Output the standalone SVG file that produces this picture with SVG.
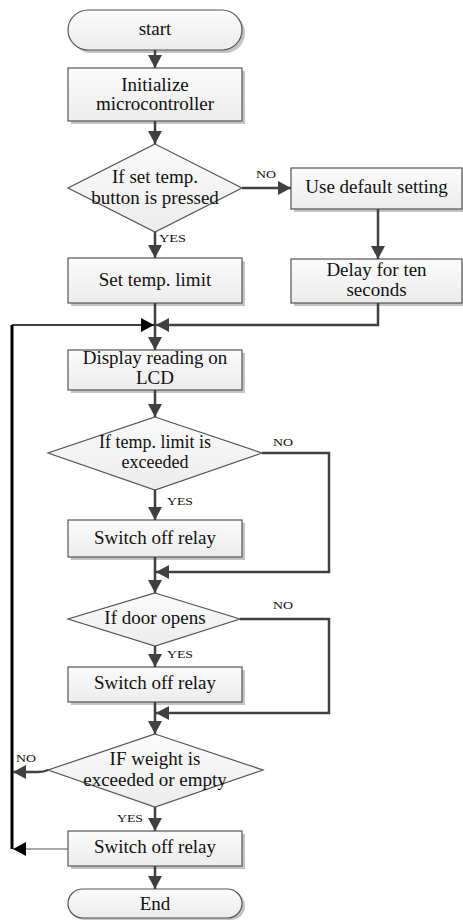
<svg xmlns="http://www.w3.org/2000/svg" width="463" height="920" viewBox="0 0 463 920">
<style>
.box{fill:url(#g);stroke:#555;stroke-width:1.2}
.sh{fill:#c4c4c4}
.t{font-family:"Liberation Serif","Times New Roman",serif;font-size:19px;fill:#111;text-anchor:middle}
.ts{font-size:18px}
.l{font-family:"Liberation Serif","Times New Roman",serif;font-size:11px;fill:#111}
.c{fill:none;stroke:#404040;stroke-width:2.5;marker-end:url(#a)}
</style>
<defs>
<linearGradient id="g" x1="0" y1="0" x2="0" y2="1">
<stop offset="0" stop-color="#fbfbfb"/>
<stop offset="1" stop-color="#ececec"/>
</linearGradient>
<marker id="a" markerUnits="userSpaceOnUse" markerWidth="14" markerHeight="14" viewBox="0 0 14 14" refX="13" refY="7" orient="auto">
<path d="M0,0 L13,7 L0,14 Z" fill="#404040"/>
</marker>
<marker id="ak" markerUnits="userSpaceOnUse" markerWidth="14" markerHeight="14" viewBox="0 0 14 14" refX="13" refY="7" orient="auto">
<path d="M0,0 L13,7 L0,14 Z" fill="#000"/>
</marker>
</defs>

<g id="start">
<rect class="sh" x="71" y="13" width="174" height="40" rx="20"/>
<rect class="box" x="68" y="10" width="174" height="40" rx="20"/>
<text class="t" x="155" y="35">start</text>
</g>
<g id="init">
<rect class="sh" x="71" y="71" width="174" height="53"/>
<rect class="box" x="68" y="68" width="174" height="53"/>
<text class="t" x="155" y="91">Initialize</text>
<text class="t" x="155" y="110">microcontroller</text>
</g>
<g id="d1">
<path class="box" d="M155,144 L242,188 L155,232 L68,188 Z"/>
<text class="t" x="155" y="183">If set temp.</text>
<text class="t" x="155" y="204">button is pressed</text>
</g>
<g id="default">
<rect class="sh" x="294" y="171" width="171" height="41"/>
<rect class="box" x="291" y="168" width="171" height="41"/>
<text class="t" x="376.5" y="193">Use default setting</text>
</g>
<g id="delay">
<rect class="sh" x="294" y="262" width="171" height="44"/>
<rect class="box" x="291" y="259" width="171" height="44"/>
<text class="t" x="376.5" y="276">Delay for ten</text>
<text class="t" x="376.5" y="296">seconds</text>
</g>
<g id="settemp">
<rect class="sh" x="71" y="261" width="174" height="45"/>
<rect class="box" x="68" y="258" width="174" height="45"/>
<text class="t" x="155" y="286">Set temp. limit</text>
</g>
<g id="display">
<rect class="sh" x="71" y="353" width="174" height="40"/>
<rect class="box" x="68" y="350" width="174" height="40"/>
<text class="t" x="155" y="364">Display reading on</text>
<text class="t" x="155" y="384">LCD</text>
</g>
<g id="d2">
<path class="box" d="M155,417 L262,453 L155,490 L48,453 Z"/>
<text class="t ts" x="155" y="448">If temp. limit is</text>
<text class="t ts" x="155" y="468">exceeded</text>
</g>
<g id="sw1">
<rect class="sh" x="71" y="523" width="174" height="37"/>
<rect class="box" x="68" y="520" width="174" height="37"/>
<text class="t" x="155" y="544">Switch off relay</text>
</g>
<g id="d3">
<path class="box" d="M155,593 L240,619 L155,646 L68,619 Z"/>
<text class="t" x="155" y="624">If door opens</text>
</g>
<g id="sw2">
<rect class="sh" x="71" y="670" width="174" height="35"/>
<rect class="box" x="68" y="667" width="174" height="35"/>
<text class="t" x="155" y="689">Switch off relay</text>
</g>
<g id="d4">
<path class="box" d="M155,734 L263,770 L155,807 L48,770 Z"/>
<text class="t" x="155" y="765">IF weight is</text>
<text class="t" x="155" y="786">exceeded or empty</text>
</g>
<g id="sw3">
<rect class="sh" x="71" y="834" width="174" height="35"/>
<rect class="box" x="68" y="831" width="174" height="35"/>
<text class="t" x="155" y="853">Switch off relay</text>
</g>
<g id="end">
<rect class="sh" x="71" y="892" width="174" height="28" rx="14"/>
<rect class="box" x="68" y="889" width="174" height="29" rx="14.5"/>
<text class="t" x="155" y="910">End</text>
</g>

<g id="connectors">
<path class="c" d="M155,50 V68"/>
<path class="c" d="M155,121 V144"/>
<path class="c" d="M155,232 V258"/>
<path class="c" d="M242,188 H291"/>
<path class="c" d="M378,209 V259"/>
<path class="c" d="M155,303 V350"/>
<path class="c" d="M378,303 V325 H156"/>
<path fill="none" stroke="#000" stroke-width="3" d="M12,849 V325"/>
<path fill="none" stroke="#000" stroke-width="1.5" marker-end="url(#ak)" d="M12,325 H154"/>
<path class="c" d="M155,390 V417"/>
<path class="c" d="M155,490 V520"/>
<path class="c" d="M262,453 H329 V572 H156"/>
<path class="c" d="M155,557 V593"/>
<path class="c" d="M155,646 V667"/>
<path class="c" d="M240,619 H329 V713 H156"/>
<path class="c" d="M155,702 V734"/>
<path class="c" d="M155,807 V831"/>
<path class="c" d="M48,770 Q44,772 38,772 H13"/>
<path fill="none" stroke="#555" stroke-width="1.2" marker-end="url(#ak)" d="M68,849 H13"/>
<path class="c" d="M155,866 V889"/>
<text class="l" x="256" y="178" textLength="20" lengthAdjust="spacingAndGlyphs">NO</text>
<text class="l" x="159" y="242" textLength="27" lengthAdjust="spacingAndGlyphs">YES</text>
<text class="l" x="273" y="446" textLength="20" lengthAdjust="spacingAndGlyphs">NO</text>
<text class="l" x="167" y="505" textLength="26" lengthAdjust="spacingAndGlyphs">YES</text>
<text class="l" x="273" y="609" textLength="20" lengthAdjust="spacingAndGlyphs">NO</text>
<text class="l" x="167" y="658" textLength="26" lengthAdjust="spacingAndGlyphs">YES</text>
<text class="l" x="16" y="762" textLength="20" lengthAdjust="spacingAndGlyphs">NO</text>
<text class="l" x="117" y="822" textLength="26" lengthAdjust="spacingAndGlyphs">YES</text>
</g>
</svg>
